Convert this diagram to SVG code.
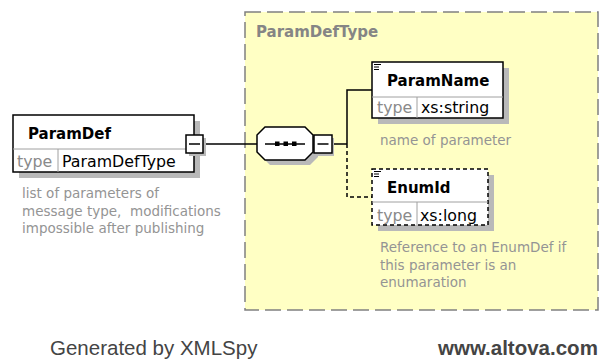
<svg xmlns="http://www.w3.org/2000/svg" width="601" height="359" viewBox="0 0 601 359">
<style>
.shadow{fill:#b9b9b9}
.box{fill:#fff;stroke:#000;stroke-width:1.5}
.dbox{fill:#fff;stroke:#000;stroke-width:1.5;stroke-dasharray:4 3}
.div{stroke:#a0a0a0;stroke-width:1}
.name{font-family:"DejaVu Sans",sans-serif;font-weight:bold;font-size:15px;fill:#000}
.tlab{font-family:"DejaVu Sans",sans-serif;font-size:15.8px;fill:#8a8a8a}
.tval{font-family:"DejaVu Sans",sans-serif;font-size:15.8px;fill:#000}
.desc{font-family:"DejaVu Sans",sans-serif;font-size:13.5px;fill:#949494}
.conn{stroke:#000;stroke-width:1.5;fill:none}
.dconn{stroke:#000;stroke-width:1.5;fill:none;stroke-dasharray:4 3}
.foot{font-family:"Liberation Sans",Arial,sans-serif;font-size:20.5px;fill:#444}
</style>
<rect width="601" height="359" fill="#fff"/>
<g id="ParamDefType">
<rect x="245" y="12" width="353" height="298" fill="#ffffc4" stroke="#808080" stroke-width="1.5" stroke-dasharray="16 6"/>
<text x="256" y="37" font-family="DejaVu Sans,sans-serif" font-weight="bold" font-size="15" fill="#858585">ParamDefType</text>
</g>
<g id="connectors">
<line class="conn" x1="204" y1="144" x2="257" y2="144"/>
<line class="conn" x1="332" y1="144" x2="347" y2="144"/>
<polyline class="conn" points="347,144 347,90 372,90"/>
<polyline class="dconn" points="347,144 347,197 372,197"/>
</g>
<g id="ParamDef">
<rect class="shadow" x="19" y="121" width="181" height="57"/>
<rect class="box" x="13" y="115" width="181" height="57"/>
<line class="div" x1="13" y1="149" x2="194" y2="149"/>
<line class="div" x1="58" y1="149" x2="58" y2="172"/>
<text class="name" x="28" y="139">ParamDef</text>
<text class="tlab" x="17" y="167">type</text>
<text class="tval" x="62" y="167">ParamDefType</text>
<rect class="shadow" x="189" y="138" width="17" height="18"/>
<rect class="box" x="186" y="135" width="17" height="18"/>
<line class="conn" x1="189" y1="144" x2="200" y2="144"/>
<text class="desc" xml:space="preserve"><tspan x="22" y="197.5">list of parameters of</tspan><tspan x="22" y="215.5">message type,  modifications</tspan><tspan x="22" y="233">impossible after publishing</tspan></text>
</g>
<g id="sequence">
<path class="shadow" d="M270,132 L310,132 L318,140 L318,157 L310,165 L270,165 L262,157 L262,140 Z"/>
<path class="box" d="M265,127 L305,127 L313,135 L313,152 L305,160 L265,160 L257,152 L257,135 Z"/>
<line class="conn" x1="265" y1="144" x2="305" y2="144"/>
<rect x="275" y="141.5" width="4.5" height="4.5" fill="#000"/>
<rect x="283.5" y="141.5" width="4.5" height="4.5" fill="#000"/>
<rect x="292" y="141.5" width="4.5" height="4.5" fill="#000"/>
<rect class="shadow" x="317" y="138" width="17" height="18"/>
<rect class="box" x="314" y="135" width="18" height="18"/>
<line class="conn" x1="317.5" y1="144" x2="328.5" y2="144"/>
</g>
<g id="ParamName">
<rect class="shadow" x="378" y="68" width="131" height="56"/>
<rect class="box" x="372" y="62" width="131" height="56"/>
<line class="div" x1="372" y1="97" x2="503" y2="97"/>
<line class="div" x1="417" y1="97" x2="417" y2="118"/>
<path d="M374,64.5 H381 M374,67 H379 M374,69.5 H379" stroke="#000" stroke-width="1"/>
<text class="name" x="387" y="86">ParamName</text>
<text class="tlab" x="377" y="113">type</text>
<text class="tval" x="421" y="113">xs:string</text>
<text class="desc" x="380" y="145">name of parameter</text>
</g>
<g id="EnumId">
<rect class="shadow" x="378" y="175" width="116" height="56"/>
<rect class="dbox" x="372" y="169" width="116" height="56"/>
<line class="div" x1="372" y1="202" x2="488" y2="202"/>
<line class="div" x1="417" y1="202" x2="417" y2="225"/>
<path d="M374,171.5 H381 M374,174 H379 M374,176.5 H379" stroke="#000" stroke-width="1"/>
<text class="name" x="387" y="193">EnumId</text>
<text class="tlab" x="377" y="221">type</text>
<text class="tval" x="420" y="221">xs:long</text>
<text class="desc"><tspan x="380" y="252">Reference to an EnumDef if</tspan><tspan x="380" y="269.5">this parameter is an</tspan><tspan x="380" y="287">enumaration</tspan></text>
</g>
<g id="footer">
<text class="foot" x="50" y="354.5">Generated by XMLSpy</text>
<text class="foot" x="438" y="354.5" font-weight="bold">www.altova.com</text>
</g>
</svg>
